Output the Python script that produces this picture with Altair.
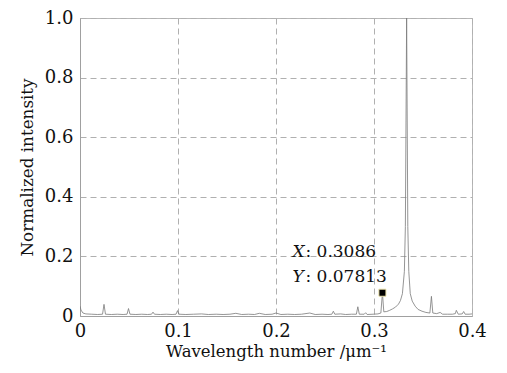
import altair as alt
import pandas as pd

wavenumber = [0.000, 0.001, 0.003, 0.006, 0.012, 0.018, 0.023, 0.0245, 0.026, 0.032,
              0.038, 0.044, 0.048, 0.0495, 0.051, 0.057, 0.063, 0.069, 0.073, 0.0745,
              0.076, 0.082, 0.088, 0.094, 0.098, 0.0995, 0.101, 0.108, 0.116, 0.124,
              0.131, 0.139, 0.146, 0.153, 0.159, 0.165, 0.172, 0.178, 0.183, 0.189,
              0.196, 0.200, 0.205, 0.212, 0.219, 0.226, 0.2345, 0.240, 0.247, 0.253,
              0.257, 0.2585, 0.260, 0.266, 0.271, 0.277, 0.282, 0.2835, 0.285, 0.290,
              0.2915, 0.293, 0.299, 0.304, 0.307, 0.3086, 0.310, 0.313, 0.316, 0.319,
              0.322, 0.325, 0.327, 0.329, 0.331, 0.332, 0.3333, 0.3345, 0.3355, 0.337,
              0.339, 0.342, 0.345, 0.349, 0.353, 0.357, 0.3586, 0.360, 0.364, 0.3675,
              0.370, 0.375, 0.380, 0.383, 0.384, 0.386, 0.390, 0.3915, 0.393, 0.397,
              0.400]
intensity = [0.033, 0.020, 0.010, 0.007, 0.006, 0.005, 0.006, 0.039, 0.006, 0.005,
             0.006, 0.005, 0.006, 0.025, 0.006, 0.005, 0.006, 0.005, 0.006, 0.013,
             0.006, 0.005, 0.006, 0.005, 0.006, 0.018, 0.006, 0.005, 0.006, 0.007,
             0.005, 0.006, 0.005, 0.006, 0.009, 0.005, 0.006, 0.005, 0.009, 0.005,
             0.006, 0.010, 0.005, 0.006, 0.005, 0.006, 0.010, 0.005, 0.006, 0.005,
             0.006, 0.016, 0.006, 0.007, 0.005, 0.006, 0.006, 0.031, 0.006, 0.006,
             0.011, 0.005, 0.006, 0.007, 0.010, 0.078, 0.014, 0.015, 0.019, 0.024,
             0.030, 0.040, 0.052, 0.075, 0.150, 0.300, 1.000, 0.300, 0.150, 0.075,
             0.050, 0.033, 0.022, 0.016, 0.012, 0.010, 0.066, 0.010, 0.008, 0.012,
             0.006, 0.006, 0.006, 0.008, 0.019, 0.006, 0.007, 0.015, 0.006, 0.006,
             0.007]

tip_x = [0.3086]
tip_y = [0.07813]
tip_x_text = ["0.3086"]
tip_y_text = ["0.07813"]

FONT = "DejaVu Serif"

df = pd.DataFrame({"x": wavenumber, "y": intensity})
tip = pd.DataFrame({"x": tip_x, "y": tip_y, "xt": [": " + s for s in tip_x_text],
                    "yt": [": " + s for s in tip_y_text]})

xscale = alt.Scale(domain=[0, 0.4], nice=False, zero=False)
yscale = alt.Scale(domain=[0, 1], nice=False)

lab = "datum.value == 0 ? '0' : format(datum.value, '.1f')"

line = alt.Chart(df).mark_line(color="#7a7a7a", strokeWidth=0.8, clip=True).encode(
    x=alt.X("x:Q", scale=xscale,
            axis=alt.Axis(title="Wavelength number /μm⁻¹", values=[0, 0.1, 0.2, 0.3, 0.4],
                          labelExpr=lab, grid=True, gridDash=[6, 4], gridColor="#b0b0b0",
                          ticks=False, domainColor="#a0a0a0", labelPadding=6,
                          labelFlush=False, labelOverlap=False,
                          labelFont=FONT, labelFontSize=18, labelColor="#111",
                          titleFont=FONT, titleFontSize=16.5, titleFontWeight="normal",
                          titleColor="#111", titlePadding=3)),
    y=alt.Y("y:Q", scale=yscale,
            axis=alt.Axis(title="Normalized intensity", values=[0, 0.2, 0.4, 0.6, 0.8, 1.0],
                          labelExpr=lab, grid=True, gridDash=[6, 4], gridColor="#b0b0b0",
                          ticks=False, domainColor="#a0a0a0", labelPadding=7,
                          labelFlush=False, labelOverlap=False,
                          labelFont=FONT, labelFontSize=18, labelColor="#111",
                          titleFont=FONT, titleFontSize=16.8, titleFontWeight="normal",
                          titleColor="#111", titlePadding=8)),
)

marker = alt.Chart(tip).mark_square(size=50, color="black", stroke="#efe6b0",
                                    strokeWidth=1, opacity=1).encode(x="x:Q", y="y:Q")

txt_base = alt.Chart(tip)
x_it = txt_base.mark_text(font=FONT, fontSize=17, fontStyle="italic", align="left",
                          baseline="alphabetic", dx=-90, dy=-36, color="#111").encode(
    x="x:Q", y="y:Q", text=alt.value("X"))
x_val = txt_base.mark_text(font=FONT, fontSize=17, align="left",
                           baseline="alphabetic", dx=-77, dy=-36, color="#111").encode(
    x="x:Q", y="y:Q", text="xt:N")
y_it = txt_base.mark_text(font=FONT, fontSize=17, fontStyle="italic", align="left",
                          baseline="alphabetic", dx=-90, dy=-11, color="#111").encode(
    x="x:Q", y="y:Q", text=alt.value("Y"))
y_val = txt_base.mark_text(font=FONT, fontSize=17, align="left",
                           baseline="alphabetic", dx=-77, dy=-11, color="#111").encode(
    x="x:Q", y="y:Q", text="yt:N")

chart = alt.layer(line, marker, x_it, x_val, y_it, y_val).properties(
    width=392, height=298,
    autosize=alt.AutoSizeParams(type="none"),
    padding={"left": 72, "top": 10, "right": 27, "bottom": 49},
    background="white",
).configure_view(stroke="#b8b8b8", strokeWidth=1)

chart.save("out.html", embed_options={"renderer": "svg", "actions": False})
